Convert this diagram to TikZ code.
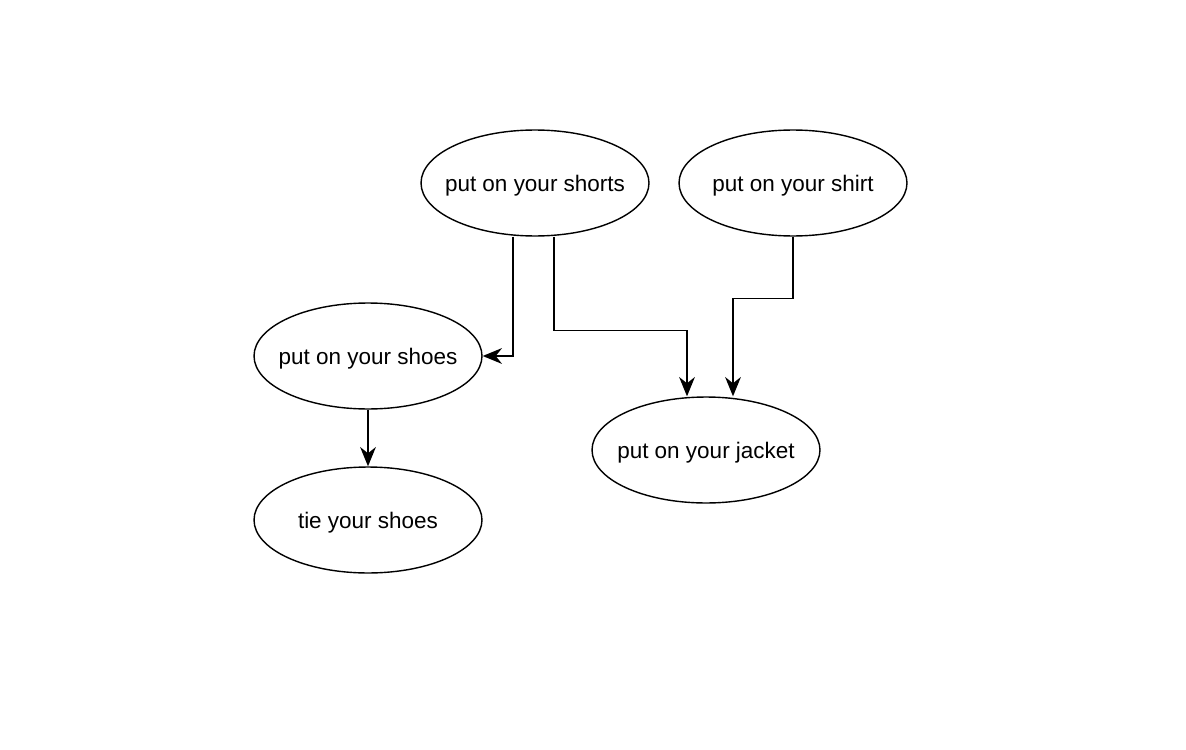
\documentclass[tikz,border=0pt]{standalone}
\usepackage{fontspec}
\setmainfont{Liberation Sans}
\usetikzlibrary{shapes.geometric,arrows.meta}
\begin{document}
\begin{tikzpicture}[x = 0.02cm, y = -0.02cm,
    task/.style = {ellipse, draw, line width=0.8pt, minimum width=4.56cm,
                   minimum height=2.12cm, inner xsep=-0.4cm, inner ysep=0pt,
                   text depth=0pt, font=\fontsize{12.8}{15}\selectfont},
    link/.style = {line width=0.8pt, -{Stealth[length=11pt,width=9pt]}}]
    \useasboundingbox (0,0) rectangle (1186,750);

    % the clothes
    \node[task] (shorts) at (535,183) {put on your shorts};
    \node[task] (shirt)  at (793,183) {put on your shirt};
    \node[task] (shoes)  at (368,356) {put on your shoes};
    \node[task] (tie)    at (368,520) {tie your shoes};
    \node[task] (jacket) at (706,450) {put on your jacket};

    \draw[link] ([xshift=-0.44cm]shorts.south) |- (shoes.east);
    \draw[link] ([xshift=0.38cm]shorts.south) -- ++(0,94) -| ([xshift=-0.38cm]jacket.north);
    \draw[link] (shirt.south) -- ++(0,62) -| ([xshift=0.54cm]jacket.north);
    \draw[link] (shoes.south) -- (tie.north);
\end{tikzpicture}
\end{document}
